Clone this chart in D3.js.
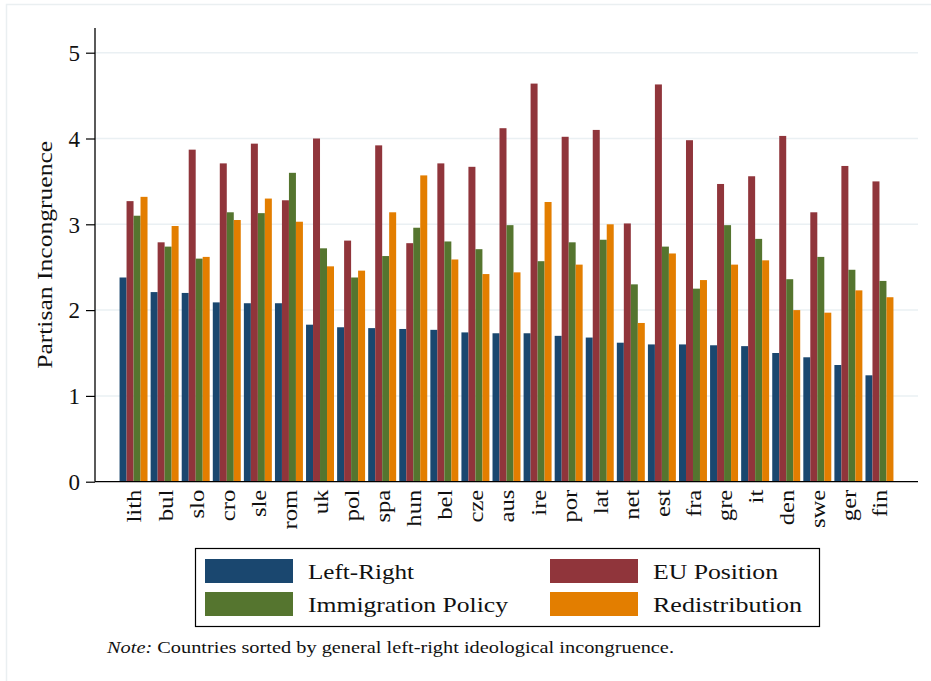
<!DOCTYPE html>
<html>
<head>
<meta charset="utf-8">
<script src="https://cdn.jsdelivr.net/npm/d3@7"></script>
<style>
  html, body { margin: 0; padding: 0; background: #fff; }
  svg { display: block; }
</style>
</head>
<body>
<svg id="chart" width="931" height="681"></svg>
<script>
// Countries, sorted by general left-right ideological incongruence
const countries = ["lith","bul","slo","cro","sle","rom","uk","pol","spa","hun","bel","cze",
                   "aus","ire","por","lat","net","est","fra","gre","it","den","swe","ger","fin"];

const leftRight    = [2.38,2.21,2.20,2.09,2.08,2.08,1.83,1.80,1.79,1.78,1.77,1.74,
                      1.73,1.73,1.70,1.68,1.62,1.60,1.60,1.59,1.58,1.50,1.45,1.36,1.24];
const euPosition   = [3.27,2.79,3.87,3.71,3.94,3.28,4.00,2.81,3.92,2.78,3.71,3.67,
                      4.12,4.64,4.02,4.10,3.01,4.63,3.98,3.47,3.56,4.03,3.14,3.68,3.50];
const immigration  = [3.10,2.74,2.60,3.14,3.13,3.60,2.72,2.38,2.63,2.96,2.80,2.71,
                      2.99,2.57,2.79,2.82,2.30,2.74,2.25,2.99,2.83,2.36,2.62,2.47,2.34];
const redistrib    = [3.32,2.98,2.62,3.05,3.30,3.03,2.51,2.46,3.14,3.57,2.59,2.42,
                      2.44,3.26,2.53,3.00,1.85,2.66,2.35,2.53,2.58,2.00,1.97,2.23,2.15];

const yTicks = [0,1,2,3,4,5];

const series = [
  { key: "Left-Right",         values: leftRight,   color: "#1a476f" },
  { key: "EU Position",        values: euPosition,  color: "#90353b" },
  { key: "Immigration Policy", values: immigration, color: "#55752f" },
  { key: "Redistribution",     values: redistrib,   color: "#e37e00" }
];

const SERIF = "'Liberation Serif', 'Times New Roman', serif";
const INK = "#111";

// widen a text element along its reading direction (wider serif face)
function stretch(sel, factor) {
  sel.each(function () {
    const len = this.getComputedTextLength();
    d3.select(this).attr("textLength", len * factor).attr("lengthAdjust", "spacingAndGlyphs");
  });
}
function fitTo(sel, width) {
  sel.attr("textLength", width).attr("lengthAdjust", "spacingAndGlyphs");
}

const svg = d3.select("#chart");

// faint outer frame
svg.append("rect")
  .attr("x", 6.5).attr("y", 4.5).attr("width", 940).attr("height", 700)
  .attr("fill", "none").attr("stroke", "#eaeff1").attr("stroke-width", 1.5);

const plot = { left: 95, right: 918, top: 28, bottom: 481.7 };

const y = d3.scaleLinear().domain([0, 5]).range([plot.bottom, 52.7]);

const x0 = d3.scaleBand()
  .domain(countries)
  .range([plot.left, plot.right])
  .paddingInner(0.1)
  .paddingOuter(0.79);

const x1 = d3.scaleBand()
  .domain(series.map(s => s.key))
  .range([0, x0.bandwidth()])
  .padding(0);

// gridlines
svg.append("g")
  .selectAll("line")
  .data(yTicks.filter(t => t > 0))
  .join("line")
  .attr("x1", plot.left).attr("x2", plot.right)
  .attr("y1", d => y(d)).attr("y2", d => y(d))
  .attr("stroke", "#eaf0f3").attr("stroke-width", 1.5);

// bars
const groups = svg.append("g")
  .selectAll("g")
  .data(countries)
  .join("g")
  .attr("transform", d => `translate(${x0(d)},0)`);

groups.selectAll("rect")
  .data((c, i) => series.map(s => ({ key: s.key, value: s.values[i], color: s.color })))
  .join("rect")
  .attr("x", d => x1(d.key))
  .attr("width", x1.bandwidth())
  .attr("y", d => y(d.value))
  .attr("height", d => y(0) - y(d.value))
  .attr("fill", d => d.color);

// y axis
const yAxis = d3.axisLeft(y).tickValues(yTicks).tickSize(9).tickPadding(6).tickFormat(d3.format("d"));
const gy = svg.append("g").attr("transform", `translate(${plot.left},0)`).call(yAxis)
  .attr("font-family", SERIF);
gy.select(".domain").remove();
gy.selectAll(".tick line").attr("stroke", "#000").attr("stroke-width", 1.2);
gy.selectAll(".tick text").attr("font-size", 23).attr("fill", INK).attr("font-family", SERIF)
  .attr("dy", "0.34em");
svg.append("line")
  .attr("x1", plot.left).attr("x2", plot.left)
  .attr("y1", plot.top).attr("y2", plot.bottom)
  .attr("stroke", "#000").attr("stroke-width", 1.3);

// x axis
const xAxis = d3.axisBottom(x0).tickSize(0).tickPadding(8);
const gx = svg.append("g").attr("transform", `translate(0,${plot.bottom})`).call(xAxis)
  .attr("font-family", SERIF);
gx.select(".domain").remove();
const xLabels = gx.selectAll(".tick text")
  .attr("font-size", 22)
  .attr("fill", INK)
  .attr("font-family", SERIF)
  .attr("transform", "rotate(-90)")
  .attr("text-anchor", "end")
  .attr("x", -8).attr("y", 0).attr("dy", "0.36em");
stretch(xLabels, 1.12);
svg.append("line")
  .attr("x1", plot.left).attr("x2", plot.right)
  .attr("y1", plot.bottom).attr("y2", plot.bottom)
  .attr("stroke", "#000").attr("stroke-width", 1.3);

// y axis title
const yTitle = svg.append("text")
  .attr("transform", `translate(52,${(plot.top + plot.bottom) / 2 + 0}) rotate(-90)`)
  .attr("text-anchor", "middle")
  .attr("font-family", SERIF)
  .attr("fill", INK)
  .attr("font-size", 22)
  .text("Partisan Incongruence");
fitTo(yTitle, 228);

// legend
const legend = svg.append("g");
legend.append("rect")
  .attr("x", 195.5).attr("y", 548.5).attr("width", 624).attr("height", 78)
  .attr("fill", "#fff").attr("stroke", "#000").attr("stroke-width", 1.2);

const legendPos = [
  { sx: 205, ty: 559, w: 106 }, { sx: 550, ty: 559, w: 125 },
  { sx: 205, ty: 592, w: 200 }, { sx: 550, ty: 592, w: 149 }
];
series.forEach((s, i) => {
  const p = legendPos[i];
  legend.append("rect")
    .attr("x", p.sx).attr("y", p.ty).attr("width", 88).attr("height", 24)
    .attr("fill", s.color);
  const t = legend.append("text")
    .attr("x", p.sx + 103).attr("y", p.ty + 20)
    .attr("font-family", SERIF)
    .attr("fill", INK)
    .attr("font-size", 22)
    .text(s.key);
  fitTo(t, p.w);
});

// note
const note = svg.append("text").attr("x", 107).attr("y", 653)
  .attr("font-family", SERIF).attr("fill", INK).attr("font-size", 17.5);
note.append("tspan").attr("font-style", "italic").text("Note:");
note.append("tspan").text(" Countries sorted by general left-right ideological incongruence.");
fitTo(note, 567);
</script>
</body>
</html>
